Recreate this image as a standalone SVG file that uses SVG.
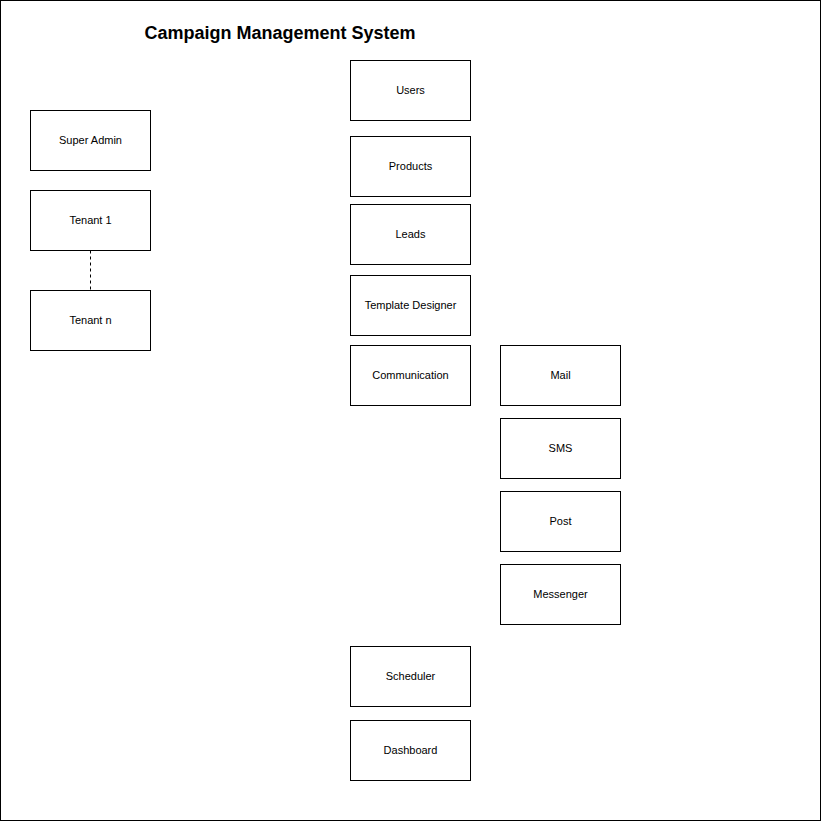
<svg xmlns="http://www.w3.org/2000/svg" width="821" height="821" viewBox="0 0 821 821">
<style>
.box{fill:#fff;stroke:#000;stroke-width:1}
.lbl{font-family:"Liberation Sans",Arial,Helvetica,sans-serif;font-size:11px;fill:#000;text-anchor:middle;dominant-baseline:central}
.title{font-family:"Liberation Sans",Arial,Helvetica,sans-serif;font-size:18px;font-weight:bold;fill:#000;text-anchor:middle}
.conn{stroke:#000;stroke-width:1;stroke-dasharray:3 3;fill:none}
</style>
<rect x="0.5" y="0.5" width="820" height="820" fill="#fff" stroke="#000" stroke-width="1"/>
<text class="title" x="280" y="39">Campaign Management System</text>
<g id="connectors">
<line class="conn" x1="90.5" y1="250.5" x2="90.5" y2="290.5"/>
</g>
<g id="super-admin"><rect class="box" x="30.5" y="110.5" width="120" height="60"/><text class="lbl" x="90.5" y="139.5">Super Admin</text></g>
<g id="tenant-1"><rect class="box" x="30.5" y="190.5" width="120" height="60"/><text class="lbl" x="90.5" y="219.5">Tenant 1</text></g>
<g id="tenant-n"><rect class="box" x="30.5" y="290.5" width="120" height="60"/><text class="lbl" x="90.5" y="319.5">Tenant n</text></g>
<g id="users"><rect class="box" x="350.5" y="60.5" width="120" height="60"/><text class="lbl" x="410.5" y="89.5">Users</text></g>
<g id="products"><rect class="box" x="350.5" y="136.5" width="120" height="60"/><text class="lbl" x="410.5" y="165.5">Products</text></g>
<g id="leads"><rect class="box" x="350.5" y="204.5" width="120" height="60"/><text class="lbl" x="410.5" y="233.5">Leads</text></g>
<g id="template-designer"><rect class="box" x="350.5" y="275.5" width="120" height="60"/><text class="lbl" x="410.5" y="304.5">Template Designer</text></g>
<g id="communication"><rect class="box" x="350.5" y="345.5" width="120" height="60"/><text class="lbl" x="410.5" y="374.5">Communication</text></g>
<g id="scheduler"><rect class="box" x="350.5" y="646.5" width="120" height="60"/><text class="lbl" x="410.5" y="675.5">Scheduler</text></g>
<g id="dashboard"><rect class="box" x="350.5" y="720.5" width="120" height="60"/><text class="lbl" x="410.5" y="749.5">Dashboard</text></g>
<g id="mail"><rect class="box" x="500.5" y="345.5" width="120" height="60"/><text class="lbl" x="560.5" y="374.5">Mail</text></g>
<g id="sms"><rect class="box" x="500.5" y="418.5" width="120" height="60"/><text class="lbl" x="560.5" y="447.5">SMS</text></g>
<g id="post"><rect class="box" x="500.5" y="491.5" width="120" height="60"/><text class="lbl" x="560.5" y="520.5">Post</text></g>
<g id="messenger"><rect class="box" x="500.5" y="564.5" width="120" height="60"/><text class="lbl" x="560.5" y="593.5">Messenger</text></g>
</svg>
